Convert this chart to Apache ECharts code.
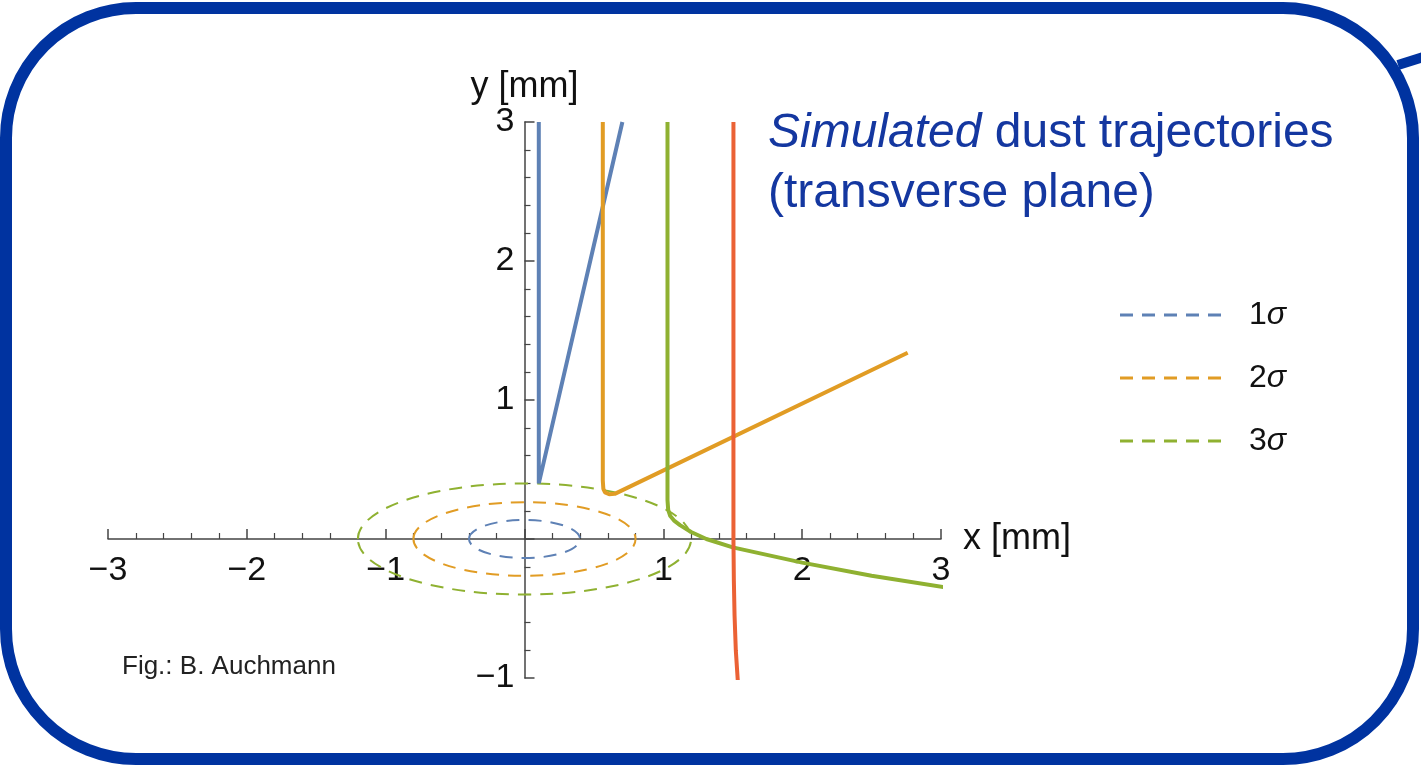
<!DOCTYPE html>
<html><head><meta charset="utf-8">
<script src="https://cdn.jsdelivr.net/npm/echarts@6/dist/echarts.min.js"></script>
<style>html,body{margin:0;padding:0;background:#fff;}#c{width:1421px;height:765px;}</style>
</head><body><div id="c"></div>
<script>
// ---- data (mm) ----
const blueTraj   = [[0.103,3.0],[0.103,0.40],[0.705,3.0]];
const orangeTraj = [[0.564,3.0],[0.564,0.42],[0.568,0.36],[0.58,0.335],[0.61,0.322],[0.65,0.325],[2.76,1.34]];
const greenTraj  = [[1.03,3.0],[1.03,0.28],[1.035,0.21],[1.05,0.165],[1.08,0.13],[1.12,0.10],[1.2,0.05],[1.31,0.0],[1.5,-0.06],[2.0,-0.17],[2.5,-0.265],[3.04,-0.35]];
const redTraj    = [[1.505,3.0],[1.505,0.0],[1.508,-0.3],[1.513,-0.55],[1.522,-0.8],[1.537,-1.03]];
const sigmaLabels = ['1σ','2σ','3σ'];
const sigmaX = [0.4, 0.8, 1.2];       // horizontal semi-axes of beam ellipses
const sigmaY = [0.137, 0.265, 0.40];  // vertical semi-axes
const xRange = [-3, 3];
const yRange = [-1, 3];
const colors = ['#5e81b5','#e19c24','#8fb131','#eb6235'];

const FONT = 'Liberation Sans, Arial, sans-serif';
const axisColor = '#444';
const minus = v => v === 0 ? '' : String(v).replace('-', '\u2212');

// grid geometry
const W = 1421, H = 765;
const G = { left: 108, right: 480, top: 122, bottom: 87 };
const gw = W - G.left - G.right, gh = H - G.top - G.bottom;
// move each axis (line, ticks, labels) onto the other axis' zero
const xAxisOffset = -gh * (0 - yRange[0]) / (yRange[1] - yRange[0]);
const yAxisOffset = -gw * (0 - xRange[0]) / (xRange[1] - xRange[0]);

const dashIcon = 'path://M0,0h13v3h-13zM22,0h13v3h-13zM44,0h13v3h-13zM66,0h13v3h-13zM88,0h13v3h-13z';

const ellipseSeries = sigmaLabels.map((name, i) => ({
  name: name,
  type: 'custom',
  coordinateSystem: 'cartesian2d',
  itemStyle: { color: colors[i] },
  encode: { x: 0, y: 1 },
  data: [[0, 0, sigmaX[i], sigmaY[i]]],
  z: 2,
  renderItem: function (params, api) {
    const c = api.coord([api.value(0), api.value(1)]);
    const s = api.size([api.value(2), api.value(3)]);
    return {
      type: 'ellipse',
      shape: { cx: c[0], cy: c[1], rx: s[0], ry: s[1] },
      style: { fill: null, stroke: colors[i], lineWidth: 2, lineDash: [13, 9] }
    };
  }
}));

const trajSeries = [blueTraj, orangeTraj, greenTraj, redTraj].map((d, i) => ({
  name: 'traj' + i,
  type: 'line',
  data: d,
  showSymbol: false,
  symbol: 'none',
  smooth: false,
  lineStyle: { color: colors[i], width: 4 },
  z: 3
}));

const chart = echarts.init(document.getElementById('c'));
chart.setOption({
  animation: false,
  backgroundColor: '#fff',
  grid: G,
  xAxis: {
    type: 'value', min: xRange[0], max: xRange[1], interval: 1,
    position: 'bottom', offset: xAxisOffset,
    name: 'x [mm]', nameLocation: 'end', nameGap: 22,
    nameTextStyle: { fontSize: 36, color: '#111', fontFamily: FONT, verticalAlign: 'middle' },
    axisLine: { onZero: false, lineStyle: { color: axisColor, width: 1.5 } },
    axisTick: { show: true, inside: true, length: 10, lineStyle: { color: axisColor, width: 1.5 } },
    minorTick: { show: true, splitNumber: 5, length: 6, lineStyle: { color: axisColor, width: 1.2 } },
    splitLine: { show: false },
    axisLabel: { fontSize: 34, color: '#111', fontFamily: FONT, margin: 15, formatter: minus }
  },
  yAxis: {
    type: 'value', min: yRange[0], max: yRange[1], interval: 1,
    position: 'left', offset: yAxisOffset,
    name: 'y [mm]', nameLocation: 'end', nameGap: 14,
    nameTextStyle: { fontSize: 36, color: '#111', fontFamily: FONT, align: 'center' },
    axisLine: { onZero: false, lineStyle: { color: axisColor, width: 1.5 } },
    axisTick: { show: true, inside: true, length: 10, lineStyle: { color: axisColor, width: 1.5 } },
    minorTick: { show: true, splitNumber: 5, length: 6, lineStyle: { color: axisColor, width: 1.2 } },
    splitLine: { show: false },
    axisLabel: { fontSize: 34, color: '#111', fontFamily: FONT, margin: 10, formatter: minus }
  },
  legend: {
    orient: 'vertical', left: 1115, top: 294, itemGap: 31,
    itemWidth: 101, itemHeight: 3,
    data: sigmaLabels.map(n => ({ name: n, icon: dashIcon })),
    formatter: n => '{n|' + n.charAt(0) + '}{s|σ}',
    textStyle: {
      padding: [0, 0, 0, 23],
      rich: {
        n: { fontSize: 32, fontFamily: FONT, color: '#111', lineHeight: 32 },
        s: { fontSize: 32, fontFamily: FONT, color: '#111', fontStyle: 'italic', lineHeight: 32 }
      }
    }
  },
  graphic: [
    { type: 'rect', shape: { x: 6, y: 8, width: 1407, height: 751, r: 130 },
      style: { fill: null, stroke: '#0033a0', lineWidth: 12 }, z: 100 },
    { type: 'line', shape: { x1: 1398, y1: 65, x2: 1423, y2: 57 },
      style: { stroke: '#0033a0', lineWidth: 10 }, z: 100 },
    { type: 'text', left: 768, top: 110, z: 100,
      style: {
        text: '{i|Simulated}{r| dust trajectories}\n{r|(transverse plane)}',
        rich: {
          i: { fontStyle: 'italic', fontSize: 48, fontFamily: FONT, fill: '#1437a0', lineHeight: 60 },
          r: { fontSize: 48, fontFamily: FONT, fill: '#1437a0', lineHeight: 60 }
        }
      }
    },
    { type: 'text', left: 122, top: 654, z: 100,
      style: { text: 'Fig.: B. Auchmann', fontSize: 26, fontFamily: FONT, fill: '#222' } }
  ],
  series: ellipseSeries.concat(trajSeries)
});
</script>
</body></html>
